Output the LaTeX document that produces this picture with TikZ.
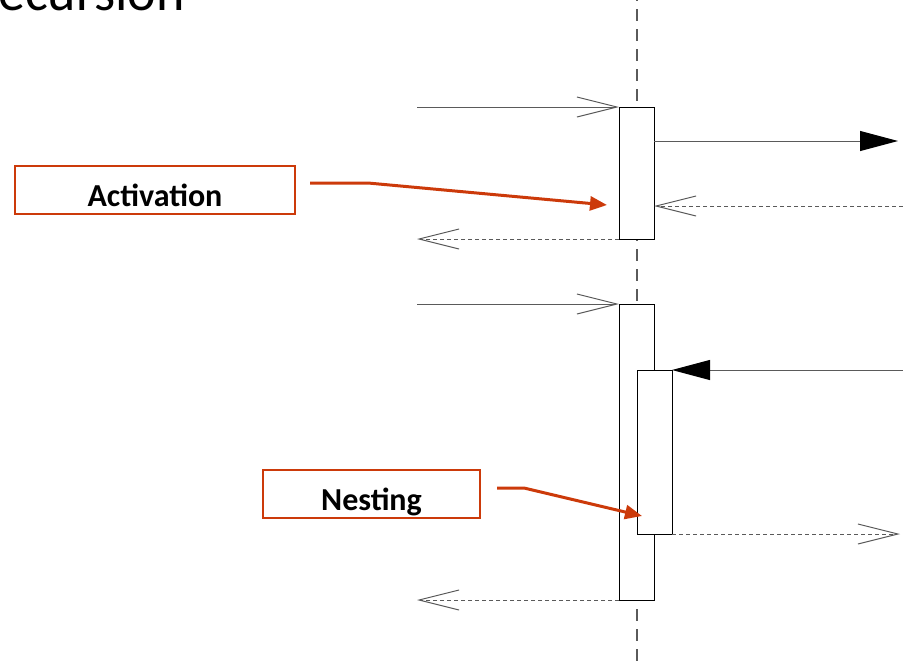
\documentclass[tikz,border=0pt]{standalone}
\usepackage{fontspec}
\setmainfont{Carlito}
\usetikzlibrary{arrows.meta}
\definecolor{callout}{RGB}{204,58,10}
\definecolor{msgline}{RGB}{90,90,90}
\tikzset{
  lifeline/.style={draw=msgline, line width=1.2pt, dash pattern=on 12pt off 8pt, dash phase=-9pt},
  actbox/.style={draw=black, fill=white, line width=1pt, minimum width=35pt, inner sep=0pt, outer sep=0pt},
  callmsg/.style={draw=msgline, line width=1pt, -{Straight Barb[length=40pt,width=20pt,line width=1pt]}},
  retmsg/.style={draw=msgline, line width=1pt, dash pattern=on 4pt off 3pt, -{Straight Barb[length=40pt,width=20pt,line width=1pt]}},
  syncmsg/.style={draw=msgline, line width=1pt, -{Triangle[length=38pt,width=20pt,black]}},
  labelbox/.style={draw=callout, line width=2pt, minimum height=48pt, inner sep=0pt, text height=38pt, text depth=6pt, font=\fontsize{32}{38}\selectfont\bfseries},
  calloutarrow/.style={draw=callout, line width=3pt, -{Triangle[length=17pt,width=14pt]}},
}
\begin{document}
\begin{tikzpicture}[x=1pt,y=-1pt]
\useasboundingbox (0,0) rectangle (903,665);
% title
\node[anchor=base west, inner sep=0pt, font=\fontsize{54}{64}\selectfont] (title) at (-2,10) {ecursion};
% lifeline
\coordinate (ltop) at (637,0);
\coordinate (lbot) at (637,665);
\draw[lifeline] (ltop) -- (lbot);
% activations
\node[actbox, minimum height=132pt] (act1) at (636.5,173) {};
\node[actbox, minimum height=296pt] (act2) at (636.5,452) {};
\node[actbox, minimum height=164pt] (act3) at (654.5,452) {};
% message end points
\coordinate (in1) at (417,107);
\coordinate (out1) at (898,141);
\coordinate (back1) at (903,206);
\coordinate (ret1) at (417,239);
\coordinate (in2) at (417,304);
\coordinate (call2) at (903,370);
\coordinate (ret3) at (900,534);
\coordinate (ret2) at (417,600);
% messages
\draw[callmsg] (in1) -- (act1.north west);
\draw[syncmsg] (act1.east |- out1) -- (out1);
\draw[retmsg] (back1) -- (act1.east |- back1);
\draw[retmsg] (act1.south west) -- (ret1);
\draw[callmsg] (in2) -- (act2.north west);
\draw[syncmsg] (call2) -- (act3.north east);
\draw[retmsg] (act3.south east) -- (ret3);
\draw[retmsg] (act2.south west) -- (ret2);
% labels
\node[labelbox, minimum width=280pt] (lab1) at (155,190) {Activation};
\node[labelbox, minimum width=217pt] (lab2) at (371.5,494) {Nesting};
\coordinate (c1a) at (310,183);
\coordinate (c1b) at (368,183);
\coordinate (c1c) at (607,205);
\coordinate (c2a) at (497,488);
\coordinate (c2b) at (524,488);
\coordinate (c2c) at (642,516);
\draw[calloutarrow] (c1a) -- (c1b) -- (c1c);
\draw[calloutarrow] (c2a) -- (c2b) -- (c2c);
\end{tikzpicture}
\end{document}
